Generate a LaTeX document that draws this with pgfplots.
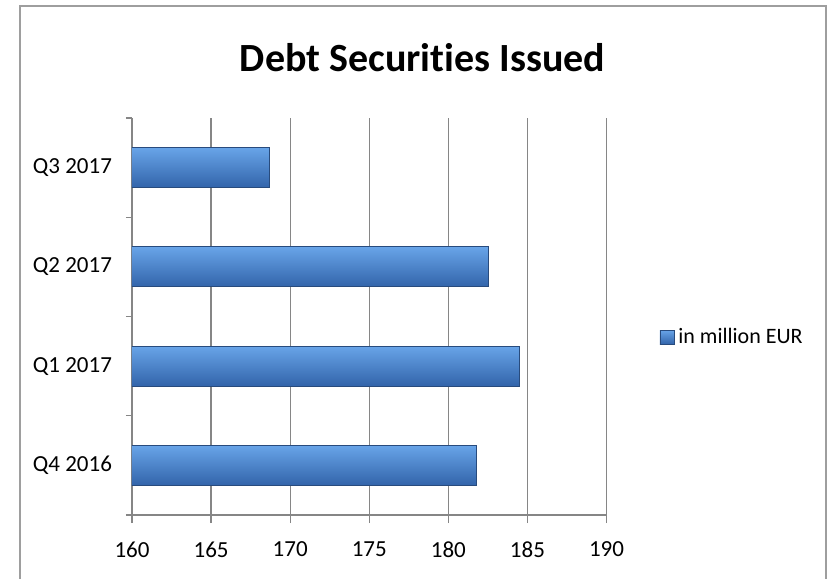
\documentclass[border=0pt]{standalone}
\usepackage{pgfplots}
\pgfplotsset{compat=1.18}
\usepackage{fontspec}
\setmainfont{Carlito}[Ligatures=NoCommon]
\definecolor{gridgray}{RGB}{134,134,134}
\definecolor{bartop}{RGB}{104,164,232}
\definecolor{barmid}{RGB}{62,125,202}
\definecolor{barbot}{RGB}{50,100,170}
\definecolor{baredge}{RGB}{40,75,125}
\begin{document}
\begin{tikzpicture}
\useasboundingbox (0,0) rectangle (414.5pt,289pt);
\draw[gridgray!80, line width=0.7pt] (10pt,-5pt) -- (10pt,286pt) -- (413pt,286pt) -- (413pt,-5pt);
\node[anchor=base, font=\fontsize{20}{24}\selectfont\bfseries] at (211.25pt,253pt) {Debt Securities Issued};
\begin{axis}[
  at={(66pt,31.5pt)}, anchor=south west,
  width=237.25pt, height=198.5pt, scale only axis,
  xmin=160, xmax=190, ymin=-0.5, ymax=3.5,
  xtick={160,165,...,190},
  ytick={0,1,2,3},
  yticklabels={Q4 2016,Q1 2017,Q2 2017,Q3 2017},
  minor ytick={-0.5,0.5,1.5,2.5,3.5},
  major y tick style={draw=none},
  minor y tick style={draw=gridgray, line width=0.6pt},
  major x tick style={draw=gridgray, line width=0.6pt},
  major tick length=4pt, minor tick length=3pt,
  tick align=outside,
  axis x line*=bottom, axis y line*=left,
  axis line style={-, draw=gridgray, line width=0.6pt},
  xmajorgrids, grid style={draw=gridgray, line width=0.6pt},
  ticklabel style={font=\fontsize{11.5}{13.5}\selectfont},
  /pgf/number format/assume math mode=true,
  xticklabel style={yshift=-6pt},
  yticklabel style={xshift=-2.5pt},
  legend style={draw=none, at={(1.111,0.448)}, anchor=west, inner sep=0pt,
    font=\fontsize{11}{13}\selectfont, fill=none},
  legend image code/.code={\fill[barmid, draw=baredge, line width=0.4pt] (0pt,-3.5pt) rectangle (7pt,3.5pt);},
  barstyle/.style={xbar, bar width=20pt, bar shift=0pt, draw=baredge, line width=0.5pt,
    top color=bartop, middle color=barmid, bottom color=barbot},
]
\addplot[barstyle] coordinates {(181.75,0)};
\addplot[barstyle, forget plot] coordinates {(184.5,1)};
\addplot[barstyle, forget plot] coordinates {(182.55,2)};
\addplot[barstyle, forget plot] coordinates {(168.7,3)};
\legend{in million EUR}
\end{axis}
\end{tikzpicture}
\end{document}
